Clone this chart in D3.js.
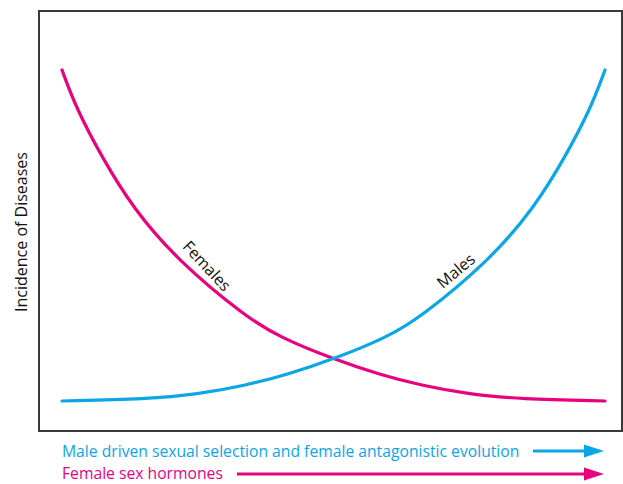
<!DOCTYPE html>
<html>
<head>
<meta charset="utf-8">
<script src="https://d3js.org/d3.v7.min.js"></script>
<style>
  body { margin: 0; background: #fff; }
  text { font-family: "Open Sans", "Noto Sans", sans-serif; }
</style>
</head>
<body>
<svg id="chart" width="623" height="484"></svg>
<script>
  // values (x: 0-100 along the axis, y: 0-100 incidence)
  var femaleX = [0, 2.6, 7.4, 13.1, 21.2, 34.1, 40.1, 49.4, 58.6, 66.0, 75.1, 84.3, 100];
  var femaleY = [100, 88.5, 73.5, 58.2, 42.6, 25.1, 19.3, 13.0, 7.9, 4.8, 2.0, 0.6, 0];
  var maleX = [0, 15.7, 24.9, 34.0, 41.4, 50.6, 59.9, 65.9, 78.8, 86.9, 92.6, 97.4, 100];
  var maleY = [0, 0.6, 2.0, 4.8, 7.9, 13.0, 19.3, 25.1, 42.6, 58.2, 73.5, 88.5, 100];

  var seriesNames = ["Females", "Males"];
  var seriesColors = ["#e8007f", "#0aa6e8"];
  var labelAt = [[26.5, 40.5, 47], [72.7, 39, -40]]; // x, y, rotation
  var yTitle = "Incidence of Diseases";
  var drivers = ["Male driven sexual selection and female antagonistic evolution", "Female sex hormones"];

  var svg = d3.select("#chart");

  var x = d3.scaleLinear().domain([0, 100]).range([62, 605]);
  var y = d3.scaleLinear().domain([0, 100]).range([401, 70]);

  // frame
  svg.append("rect")
    .attr("x", 39).attr("y", 11)
    .attr("width", 583).attr("height", 420)
    .attr("fill", "none")
    .attr("stroke", "#3a3a3a")
    .attr("stroke-width", 2);

  var series = [
    femaleX.map(function(v, i) { return {x: v, y: femaleY[i]}; }),
    maleX.map(function(v, i) { return {x: v, y: maleY[i]}; })
  ];

  var line = d3.line()
    .x(function(d) { return x(d.x); })
    .y(function(d) { return y(d.y); })
    .curve(d3.curveBasis);

  svg.selectAll(".curve")
    .data(series)
    .enter()
    .append("path")
      .attr("class", "curve")
      .attr("fill", "none")
      .attr("stroke", function(d, i) { return seriesColors[i]; })
      .attr("stroke-width", 3.2)
      .attr("stroke-linecap", "round")
      .attr("d", line);

  svg.selectAll(".curveLabel")
    .data(seriesNames)
    .enter()
    .append("text")
      .attr("class", "curveLabel")
      .attr("text-anchor", "middle")
      .attr("dominant-baseline", "middle")
      .attr("font-size", 16)
      .attr("fill", "#111")
      .attr("transform", function(d, i) {
        return "translate(" + x(labelAt[i][0]) + "," + y(labelAt[i][1]) + ") rotate(" + labelAt[i][2] + ")";
      })
      .text(function(d) { return d; });

  svg.append("text")
    .attr("transform", "translate(27,232) rotate(-90)")
    .attr("text-anchor", "middle")
    .attr("font-size", 16)
    .attr("fill", "#111")
    .text(yTitle);

  // driver arrows under the frame
  var arrowRows = [
    {text: drivers[0], color: seriesColors[1], base: 457, lineY: 451, start: 533},
    {text: drivers[1], color: seriesColors[0], base: 479, lineY: 474, start: 237}
  ];

  arrowRows.forEach(function(r) {
    svg.append("text")
      .attr("x", 62).attr("y", r.base)
      .attr("font-size", 15.7)
      .attr("fill", r.color)
      .text(r.text);
    svg.append("line")
      .attr("x1", r.start).attr("x2", 588)
      .attr("y1", r.lineY).attr("y2", r.lineY)
      .attr("stroke", r.color)
      .attr("stroke-width", 3);
    svg.append("path")
      .attr("d", "M584," + (r.lineY - 6.5) + " L604," + r.lineY + " L584," + (r.lineY + 6.5) + " Z")
      .attr("fill", r.color);
  });
</script>
</body>
</html>
